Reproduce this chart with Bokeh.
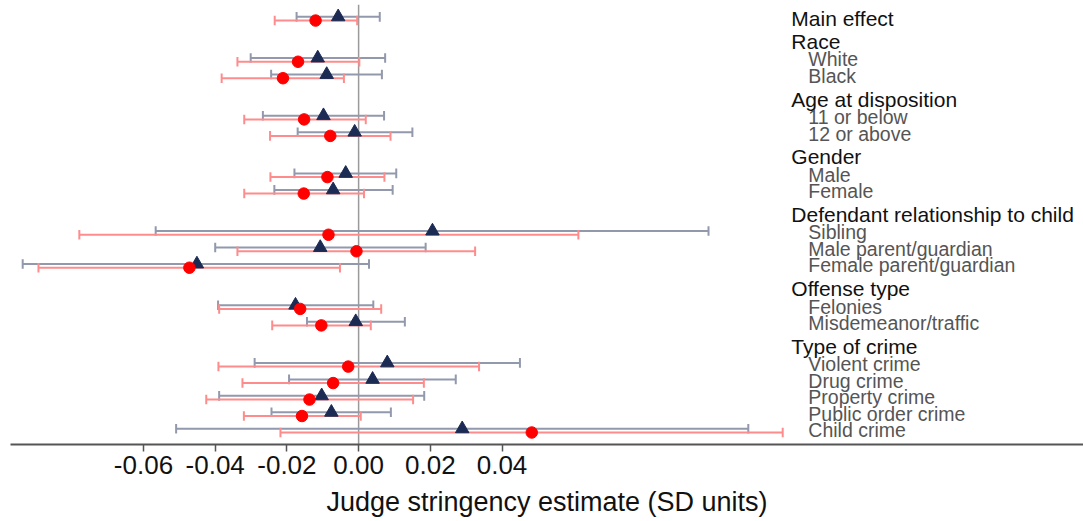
from bokeh.plotting import figure
from bokeh.models import Range1d, FixedTicker, Span, ColumnDataSource, PrintfTickFormatter
from bokeh.core.properties import value
from bokeh.embed import file_html
from bokeh.resources import INLINE

# ---------------- data ----------------
main_label = "Main effect"
headers = ["Race", "Age at disposition", "Gender", "Defendant relationship to child",
           "Offense type", "Type of crime"]
group_items = [
    ["White", "Black"],
    ["11 or below", "12 or above"],
    ["Male", "Female"],
    ["Sibling", "Male parent/guardian", "Female parent/guardian"],
    ["Felonies", "Misdemeanor/traffic"],
    ["Violent crime", "Drug crime", "Property crime", "Public order crime", "Child crime"],
]

# order: main effect, then the items of each group in turn
red_est = [-0.0120, -0.0169, -0.0211, -0.0152, -0.0079, -0.0087, -0.0153, -0.0084, -0.0006,
           -0.0472, -0.0163, -0.0104, -0.0029, -0.0071, -0.0137, -0.0158, 0.0483]
red_lo = [-0.0234, -0.0338, -0.0382, -0.0319, -0.0247, -0.0246, -0.0319, -0.0779, -0.0338,
          -0.0893, -0.0389, -0.0241, -0.0391, -0.0324, -0.0425, -0.0320, -0.0218]
red_hi = [-0.0004, 0.0002, -0.0041, 0.0020, 0.0089, 0.0072, 0.0015, 0.0613, 0.0325,
          -0.0052, 0.0063, 0.0034, 0.0336, 0.0182, 0.0152, 0.0006, 0.1183]
navy_est = [-0.0057, -0.0114, -0.0089, -0.0098, -0.0011, -0.0036, -0.0071, 0.0206, -0.0107,
            -0.0451, -0.0176, -0.0008, 0.0080, 0.0039, -0.0103, -0.0076, 0.0289]
navy_lo = [-0.0173, -0.0301, -0.0244, -0.0267, -0.0170, -0.0179, -0.0235, -0.0566, -0.0400,
           -0.0937, -0.0392, -0.0144, -0.0290, -0.0194, -0.0389, -0.0243, -0.0509]
navy_hi = [0.0059, 0.0074, 0.0065, 0.0071, 0.0150, 0.0105, 0.0095, 0.0976, 0.0187,
           0.0029, 0.0041, 0.0129, 0.0450, 0.0271, 0.0183, 0.0090, 0.1087]
x_ticks = [-0.06, -0.04, -0.02, 0.00, 0.02, 0.04]
x_title = "Judge stringency estimate (SD units)"

# ---------------- layout of rows ----------------
PX_PER_ROW = 16.48
row_pos = [0.0]
header_pos = []
last = 0.0
for items in group_items:
    header_pos.append(last + 1.41)
    first = last + 2.5
    for k in range(len(items)):
        row_pos.append(first + k)
    last = row_pos[-1]
sub_labels = [it for items in group_items for it in items]

OFF = 0.112
red_y = [r + OFF for r in row_pos]
navy_y = [r - OFF for r in row_pos]
CAP = 0.29

p = figure(width=1083, height=521, output_backend="svg", toolbar_location=None,
           x_range=Range1d(-0.0971, 0.2022), y_range=Range1d(25.84, -0.862),
           min_border_left=10, min_border_right=0, min_border_top=4, min_border_bottom=77)
p.outline_line_color = None
p.grid.visible = False
p.yaxis.visible = False
p.background_fill_color = "white"
p.border_fill_color = "white"

p.add_layout(Span(location=0, dimension="height", line_color="#9a9a9a", line_width=1.5,
                  level="underlay"))

RED_BAR = "#ff8c8c"
NAVY_BAR = "#9299ad"

def draw(est, lo, hi, ys, bar_color):
    src = ColumnDataSource(dict(est=est, lo=lo, hi=hi, y=ys,
                                y0=[y - CAP for y in ys], y1=[y + CAP for y in ys]))
    p.segment(x0="lo", x1="hi", y0="y", y1="y", source=src, line_color=bar_color, line_width=2)
    p.segment(x0="lo", x1="lo", y0="y0", y1="y1", source=src, line_color=bar_color, line_width=2)
    p.segment(x0="hi", x1="hi", y0="y0", y1="y1", source=src, line_color=bar_color, line_width=2)
    return src

nsrc = draw(navy_est, navy_lo, navy_hi, navy_y, NAVY_BAR)
rsrc = draw(red_est, red_lo, red_hi, red_y, RED_BAR)
p.scatter(x="est", y="y", source=nsrc, marker="triangle", size=13.5,
          fill_color="#1c2b53", line_color="#1c2b53")
p.scatter(x="est", y="y", source=rsrc, marker="circle", size=11.5,
          fill_color="#ff0000", line_color="#ff0000")

# ---------------- labels ----------------
LABEL_X = 0.1207
HFS, SFS = 21, 19.5
h_shift = (1 + 0.716 * HFS / 2 - 9.0) / PX_PER_ROW
s_shift = (1 + 0.716 * SFS / 2 - 8.5) / PX_PER_ROW
hsrc = ColumnDataSource(dict(x=[LABEL_X] * (1 + len(headers)),
                             y=[row_pos[0] + h_shift] + [h + h_shift for h in header_pos],
                             t=[main_label] + headers))
p.text(x="x", y="y", text="t", source=hsrc, text_font=value("Liberation Sans"),
       text_font_size=f"{HFS}px", text_color="#111111", text_baseline="alphabetic",
       text_align="left")
ssrc = ColumnDataSource(dict(x=[LABEL_X] * len(sub_labels),
                             y=[r + s_shift for r in row_pos[1:]], t=sub_labels))
p.text(x="x", y="y", text="t", source=ssrc, text_font=value("Liberation Sans"),
       text_font_size=f"{SFS}px", text_color="#555555", text_baseline="alphabetic",
       text_align="left", x_offset=17)

# ---------------- axis ----------------
ax = p.xaxis[0]
ax.ticker = FixedTicker(ticks=x_ticks)
ax.formatter = PrintfTickFormatter(format="%.2f")
ax.minor_tick_line_color = None
ax.major_tick_in = 0
ax.major_tick_out = 7
ax.major_tick_line_color = "#555555"
ax.major_tick_line_width = 1.5
ax.axis_line_color = "#555555"
ax.axis_line_width = 2
ax.major_label_text_font = "Liberation Sans"
ax.major_label_text_font_size = "26px"
ax.major_label_text_color = "#111111"
ax.major_label_standoff = 4
ax.axis_label = x_title
ax.axis_label_text_font = "Liberation Sans"
ax.axis_label_text_font_size = "27px"
ax.axis_label_text_font_style = "normal"
ax.axis_label_text_color = "#111111"
ax.axis_label_standoff = 10

open("out.html", "w").write(file_html(p, INLINE))
